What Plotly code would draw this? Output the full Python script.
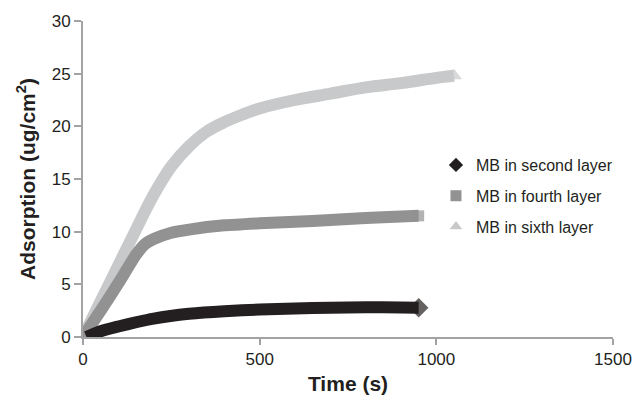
import plotly.graph_objects as go

# Time points (s) and adsorption (ug/cm^2)
t_second = [10, 50, 100, 150, 200, 300, 400, 500, 600, 700, 800, 900, 950]
y_second = [0.0, 0.55, 1.0, 1.4, 1.75, 2.2, 2.45, 2.6, 2.7, 2.78, 2.82, 2.8, 2.78]

t_fourth = [0, 50, 100, 150, 175, 200, 250, 300, 400, 500, 600, 700, 800, 900, 950]
y_fourth = [0.0, 2.5, 5.1, 7.8, 8.8, 9.3, 9.9, 10.2, 10.6, 10.8, 10.95, 11.1, 11.3, 11.45, 11.5]

t_sixth = [0, 50, 100, 150, 200, 250, 300, 350, 400, 450, 500, 600, 700, 800, 900, 1000, 1050]
y_sixth = [0.0, 3.4, 6.8, 10.2, 13.5, 16.2, 18.1, 19.5, 20.4, 21.1, 21.7, 22.5, 23.1, 23.7, 24.1, 24.6, 24.8]

series_names = ["MB in second layer", "MB in fourth layer", "MB in sixth layer"]

series = [
    (t_second, y_second, "#231f20", "diamond", 15, 0.6),
    (t_fourth, y_fourth, "#929292", "square", 11, 0.6),
    (t_sixth, y_sixth, "#c8c9ca", "triangle-up", 14, 1.0),
]

fig = go.Figure()
# draw back-to-front: sixth, fourth, second (second on top)
for idx in [2, 1, 0]:
    tx, ty, col, sym, end_size, smooth = series[idx]
    sizes = [0] * len(tx)
    sizes[-1] = end_size
    fig.add_trace(go.Scatter(
        x=tx, y=ty, mode="lines+markers",
        line=dict(color=col, width=12, shape="spline", smoothing=smooth),
        marker=dict(symbol=sym, size=sizes, color=col, line=dict(width=0)),
        showlegend=False, hoverinfo="skip",
    ))

for idx, name in enumerate(series_names):
    tx, ty, col, sym, _, _ = series[idx]
    fig.add_trace(go.Scatter(
        x=[None], y=[None], mode="markers", name=name,
        marker=dict(symbol=sym, size=11, color=col),
        legendgroup=name,
    ))

axis_col = "#a3a3a5"
text_col = "#231f20"
fig.update_layout(
    width=632, height=399,
    margin=dict(l=83, r=19, t=21, b=62),
    paper_bgcolor="white", plot_bgcolor="white",
    font=dict(family="Liberation Sans, Arial, sans-serif", color=text_col, size=17),
    showlegend=True,
    legend=dict(
        x=0.666, y=0.598, xanchor="left", yanchor="top",
        font=dict(size=16, color=text_col),
        traceorder="grouped", tracegroupgap=7,
        bgcolor="rgba(0,0,0,0)", itemwidth=30,
    ),
    xaxis=dict(
        range=[0, 1500], tickvals=[0, 500, 1000, 1500],
        showgrid=False, zeroline=False, automargin=False,
        showline=True, linecolor=axis_col, linewidth=2,
        ticks="outside", ticklen=6, tickwidth=2, tickcolor=axis_col,
        tickfont=dict(size=17, color=text_col),
        title=dict(text="<b>Time (s)</b>", font=dict(size=21, color=text_col), standoff=8),
    ),
    yaxis=dict(
        range=[0, 30], tickvals=[0, 5, 10, 15, 20, 25, 30],
        showgrid=False, zeroline=False, automargin=False,
        showline=True, linecolor=axis_col, linewidth=2,
        ticks="outside", ticklen=7, tickwidth=2, tickcolor=axis_col,
        tickfont=dict(size=17, color=text_col),
        title=dict(text="<b>Adsorption (ug/cm<sup>2</sup>)</b>", font=dict(size=21, color=text_col), standoff=10),
    ),
)

fig.write_html(
    "out.html",
    config={"displayModeBar": False},
    post_script="document.body.style.margin='0';document.body.style.overflow='hidden';",
)
